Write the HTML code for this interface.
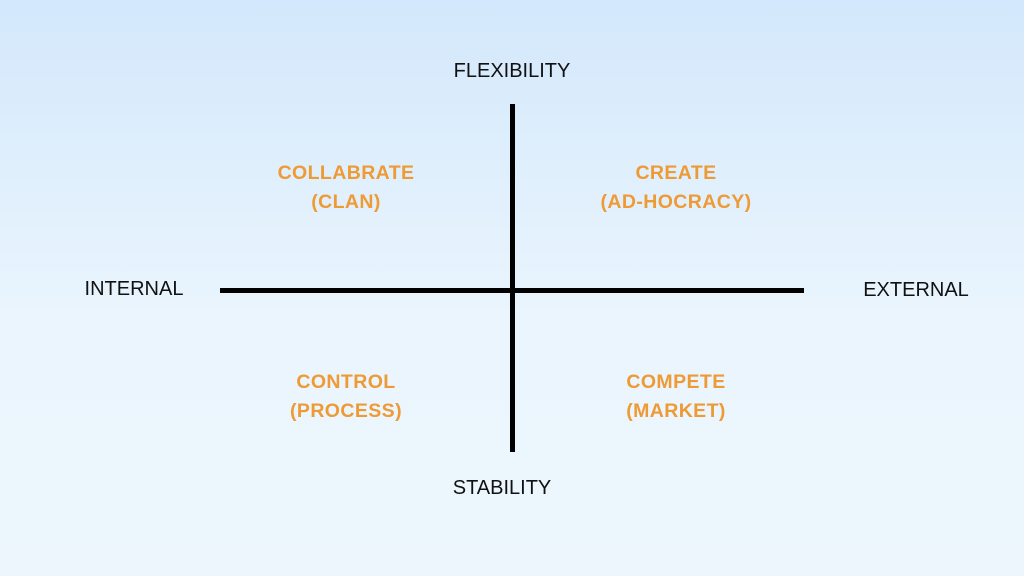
<!DOCTYPE html>
<html><head><style>
html,body{margin:0;padding:0}
body{width:1024px;height:576px;position:relative;overflow:hidden;background:linear-gradient(#d3e8fc,#eaf5fd 55%,#edf6fd);font-family:"Liberation Sans",sans-serif}
.l{position:absolute;font-size:20px;color:#111;white-space:nowrap;transform:translateX(-50%);line-height:1}
.q{position:absolute;font-size:19.5px;font-weight:bold;color:#ee9a35;text-align:center;line-height:29px;white-space:nowrap;transform:translateX(-50%);letter-spacing:0.4px}
.v{position:absolute;left:510px;top:104px;width:5px;height:348px;background:#000}
.h{position:absolute;left:220px;top:288px;width:584px;height:5px;background:#000}
</style></head><body>
<div class="v"></div><div class="h"></div>
<div class="l" style="left:512px;top:61px">FLEXIBILITY</div>
<div class="l" style="left:502px;top:478px">STABILITY</div>
<div class="l" style="left:134px;top:279px">INTERNAL</div>
<div class="l" style="left:916px;top:280px">EXTERNAL</div>
<div class="q" style="left:346px;top:159px">COLLABRATE<br>(CLAN)</div>
<div class="q" style="left:676px;top:159px">CREATE<br>(AD-HOCRACY)</div>
<div class="q" style="left:346px;top:368px">CONTROL<br>(PROCESS)</div>
<div class="q" style="left:676px;top:368px">COMPETE<br>(MARKET)</div>
</body></html>
